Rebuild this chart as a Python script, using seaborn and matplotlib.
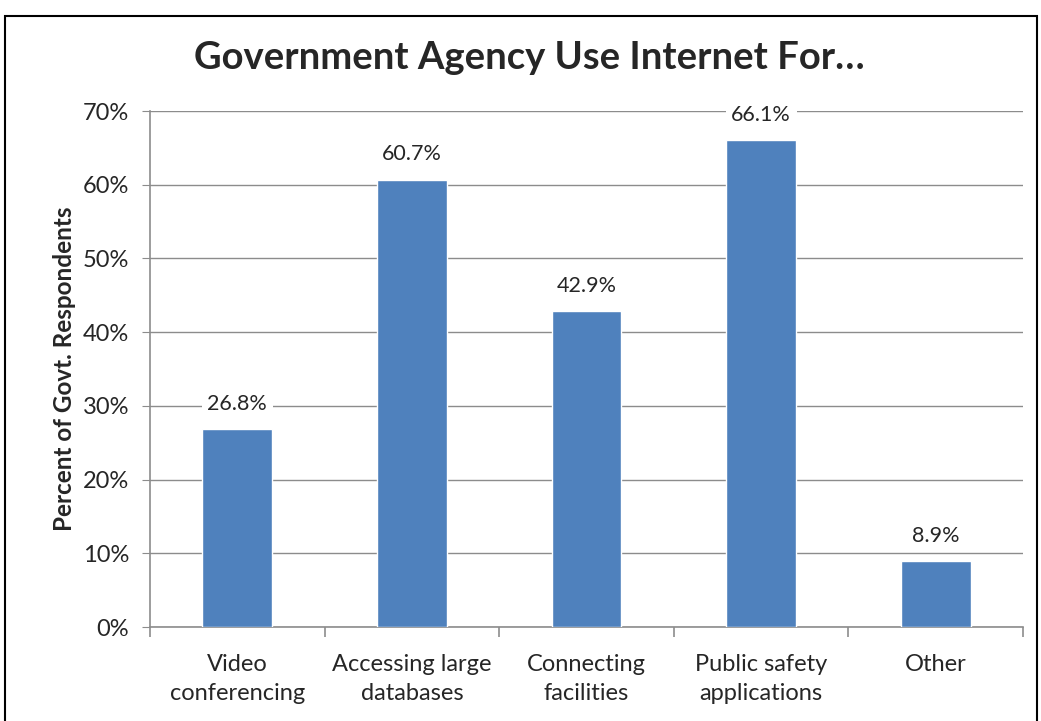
import matplotlib
matplotlib.use("Agg")
import matplotlib.pyplot as plt
import seaborn as sns
import pandas as pd
from matplotlib.patches import Rectangle
from matplotlib.ticker import PercentFormatter

categories = ["Video\nconferencing", "Accessing large\ndatabases", "Connecting\nfacilities",
              "Public safety\napplications", "Other"]
values = [26.8, 60.7, 42.9, 66.1, 8.9]
y_ticks = [0, 10, 20, 30, 40, 50, 60, 70]

sns.set_style("white")
plt.rcParams['font.family'] = ['Lato', 'DejaVu Sans']

df = pd.DataFrame({"category": categories, "value": values})

fig = plt.figure(figsize=(10.41, 7.21), dpi=100)
ax = fig.add_axes([150 / 1041, 1 - 627 / 721, (1023 - 150) / 1041, (627 - 111) / 721])

# outer chart frame
fig.patches.append(Rectangle((5 / 1041, -0.01), (1037 - 5) / 1041, 1 - 16 / 721 + 0.01,
                             transform=fig.transFigure, fill=False, edgecolor="black", linewidth=1.5))

sns.barplot(data=df, x="category", y="value", color="#4F81BD", width=0.4, ax=ax, zorder=3,
            saturation=1)

ax.set_ylim(0, 70)
ax.set_yticks(y_ticks)
ax.yaxis.set_major_formatter(PercentFormatter(decimals=0))
ax.grid(axis="y", color="#8c8c8c", linewidth=1, zorder=0)
ax.set_axisbelow(True)

for s in ["top", "right"]:
    ax.spines[s].set_visible(False)
ax.spines["left"].set_color("#8c8c8c")
ax.spines["bottom"].set_color("#8c8c8c")
ax.spines["left"].set_linewidth(1.2)
ax.spines["bottom"].set_linewidth(1.2)

ax.tick_params(axis="y", which="major", left=True, length=6, color="#8c8c8c", labelsize=17, pad=9)
ax.tick_params(axis="x", which="major", bottom=False, labelsize=17, pad=16)
ax.set_xticks(range(len(categories)))
ax.set_xticklabels(categories, linespacing=1.45)
# category boundary ticks
ax.set_xticks([i - 0.5 for i in range(len(categories) + 1)], minor=True)
ax.tick_params(axis="x", which="minor", bottom=True, length=7, color="#8c8c8c", width=1.2)
ax.set_xlim(-0.5, len(categories) - 0.5)

ax.set_xlabel("")
ax.set_ylabel("Percent of Govt. Respondents", fontsize=17.5, fontweight="bold", labelpad=5)

for i, v in enumerate(values):
    ax.text(i, v + 3.4, f"{v:.1f}%", ha="center", va="center", fontsize=15.5, zorder=4,
            bbox=dict(facecolor="white", edgecolor="none", pad=4))

fig.text(529 / 1041, 1 - 58 / 721, "Government Agency Use Internet For…", ha="center", va="center",
         fontsize=27.5, fontweight="bold")

fig.savefig("out.png", dpi=100)
plt.close()
